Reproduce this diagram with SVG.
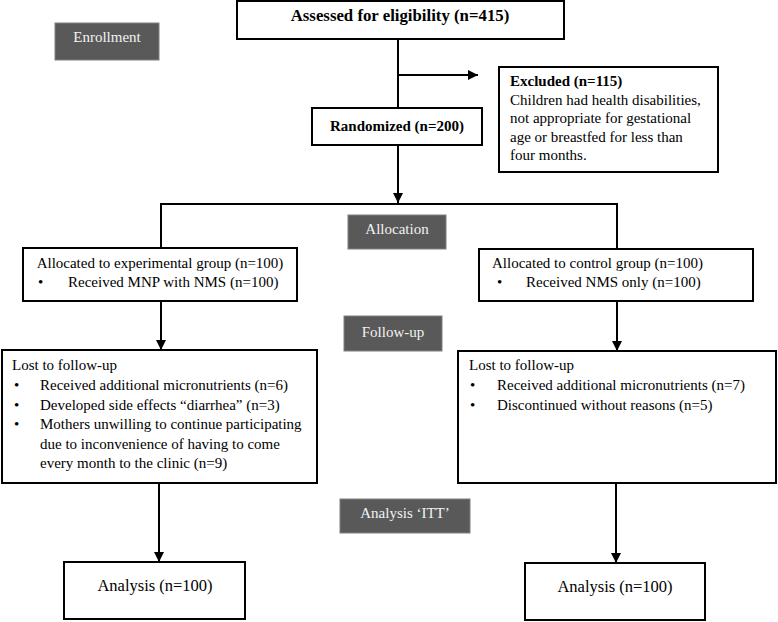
<svg xmlns="http://www.w3.org/2000/svg" width="778" height="622" viewBox="0 0 778 622">
<defs>
<style>
.box{fill:#fff;stroke:#000;stroke-width:2}
.lbl{fill:#595959;stroke:#808080;stroke-width:1}
.t{font-family:"Liberation Serif","Times New Roman",serif;font-size:15px;fill:#000}
.b{font-weight:bold}
.lt{font-family:"Liberation Serif","Times New Roman",serif;font-size:15px;fill:#f2f2f2;text-anchor:middle}
.c{text-anchor:middle}
.an{font-size:16.5px}
.ln{fill:none;stroke:#000;stroke-width:2}
</style>
<marker id="ah" viewBox="0 0 10 10" refX="10" refY="5" markerWidth="5" markerHeight="5" orient="auto" markerUnits="strokeWidth">
<path d="M0,0 L10,5 L0,10 z" fill="#000"/>
</marker>
</defs>
<rect width="778" height="622" fill="#fff"/>

<g id="connectors">
<line class="ln" x1="398" y1="39" x2="398" y2="108"/>
<line class="ln" x1="398" y1="75" x2="478" y2="75" marker-end="url(#ah)"/>
<line class="ln" x1="398" y1="145" x2="398" y2="203" marker-end="url(#ah)"/>
<polyline class="ln" points="161,249 161,204 617,204 617,249"/>
<line class="ln" x1="161" y1="301" x2="161" y2="350" marker-end="url(#ah)"/>
<line class="ln" x1="617" y1="301" x2="617" y2="351" marker-end="url(#ah)"/>
<line class="ln" x1="159" y1="483" x2="159" y2="562" marker-end="url(#ah)"/>
<line class="ln" x1="616" y1="483" x2="616" y2="563" marker-end="url(#ah)"/>
</g>

<g id="enrollment">
<rect class="lbl" x="55" y="23" width="104" height="37"/>
<text class="lt" x="107" y="42">Enrollment</text>
</g>

<g id="assessed">
<rect class="box" x="237" y="1" width="327" height="38"/>
<text class="t b c" x="400" y="21" style="font-size:16.8px">Assessed for eligibility (n=415)</text>
</g>

<g id="excluded">
<rect class="box" x="499" y="67" width="219" height="105"/>
<text class="t b" x="510" y="86">Excluded (n=115)</text>
<text class="t" x="510" y="105">Children had health disabilities,</text>
<text class="t" x="510" y="123">not appropriate  for gestational</text>
<text class="t" x="510" y="142">age or breastfed for less than</text>
<text class="t" x="510" y="160">four months.</text>
</g>

<g id="randomized">
<rect class="box" x="312" y="108" width="170" height="37"/>
<text class="t b c" x="397" y="131">Randomized (n=200)</text>
</g>

<g id="allocation">
<rect class="lbl" x="348" y="215" width="98" height="34"/>
<text class="lt" x="397" y="234">Allocation</text>
</g>

<g id="experimental">
<rect class="box" x="23" y="248" width="274" height="53"/>
<text class="t c" x="160" y="268">Allocated to experimental group (n=100)</text>
<text class="t" x="38" y="287">•</text>
<text class="t" x="68" y="287">Received MNP with NMS (n=100)</text>
</g>

<g id="control">
<rect class="box" x="479" y="249" width="274" height="52"/>
<text class="t" x="492" y="268">Allocated to control group (n=100)</text>
<text class="t" x="497" y="287">•</text>
<text class="t" x="526" y="287">Received NMS only (n=100)</text>
</g>

<g id="followup">
<rect class="lbl" x="344" y="316" width="98" height="35"/>
<text class="lt" x="393" y="337">Follow-up</text>
</g>

<g id="lost-left">
<rect class="box" x="2" y="350" width="315" height="133"/>
<text class="t" x="12" y="370">Lost to follow-up</text>
<text class="t" x="14" y="390">•</text>
<text class="t" x="40" y="390">Received additional micronutrients (n=6)</text>
<text class="t" x="14" y="410">•</text>
<text class="t" x="40" y="410">Developed side effects “diarrhea” (n=3)</text>
<text class="t" x="14" y="429">•</text>
<text class="t" x="40" y="429">Mothers unwilling to continue participating</text>
<text class="t" x="40" y="449">due to inconvenience of having to come</text>
<text class="t" x="40" y="468">every month to the clinic (n=9)</text>
</g>

<g id="lost-right">
<rect class="box" x="458" y="351" width="318" height="132"/>
<text class="t" x="469" y="370">Lost to follow-up</text>
<text class="t" x="470" y="390">•</text>
<text class="t" x="497" y="390">Received additional micronutrients (n=7)</text>
<text class="t" x="470" y="410">•</text>
<text class="t" x="497" y="410">Discontinued without reasons (n=5)</text>
</g>

<g id="analysis-label">
<rect class="lbl" x="340" y="499" width="130" height="34"/>
<text class="lt" x="405" y="518">Analysis ‘ITT’</text>
</g>

<g id="analysis-left">
<rect class="box" x="64" y="562" width="181" height="57"/>
<text class="t c an" x="155" y="591">Analysis (n=100)</text>
</g>

<g id="analysis-right">
<rect class="box" x="525" y="563" width="180" height="57"/>
<text class="t c an" x="615" y="592">Analysis (n=100)</text>
</g>
</svg>
